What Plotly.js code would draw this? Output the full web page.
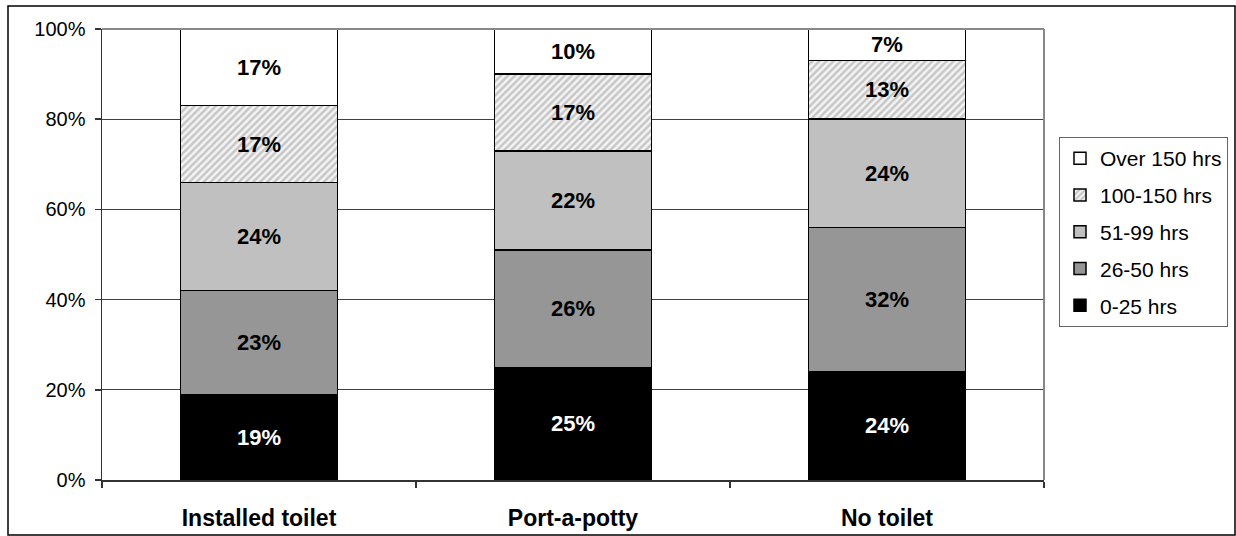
<!DOCTYPE html>
<html>
<head>
<meta charset="utf-8">
<script src="https://cdn.plot.ly/plotly-3.0.1.min.js"></script>
<style>
  html, body { margin: 0; padding: 0; background: #fff; }
  #chart { width: 1236px; height: 536px; }
</style>
</head>
<body>
<div id="chart"></div>
<script>
// Share of respondents by hours, for each toilet type
const categories = ['Installed toilet', 'Port-a-potty', 'No toilet'];
const seriesNames = ['0-25 hrs', '26-50 hrs', '51-99 hrs', '100-150 hrs', 'Over 150 hrs'];
const hrs0to25    = [19, 25, 24];
const hrs26to50   = [23, 26, 32];
const hrs51to99   = [24, 22, 24];
const hrs100to150 = [17, 17, 13];
const hrsOver150  = [17, 10, 7];
const yTickValues = [0, 20, 40, 60, 80, 100];
const yTickLabels = ['0%', '20%', '40%', '60%', '80%', '100%'];

const FONT = '"Liberation Sans", Arial, sans-serif';
const W = 1236, H = 536;
const M = { l: 102, r: 192, t: 29, b: 56, autoexpand: false };
const plotW = W - M.l - M.r, plotH = H - M.t - M.b;
// convert page pixels to paper coordinates
const px = x => (x - M.l) / plotW;
const py = y => (H - M.b - y) / plotH;

const seriesValues = [hrs0to25, hrs26to50, hrs51to99, hrs100to150, hrsOver150];
const fills = ['#000000', '#969696', '#c0c0c0', '#ffffff', '#ffffff'];
const textColors = ['#ffffff', '#000000', '#000000', '#000000', '#000000'];

const traces = seriesValues.map((vals, i) => {
  const marker = { color: fills[i], line: { color: '#000000', width: 1.5 } };
  if (i === 3) {
    marker.pattern = { shape: '/', fgcolor: '#c6c6c6', bgcolor: '#f4f4f4', size: 5, solidity: 0.5 };
  }
  return {
    type: 'bar',
    name: seriesNames[i],
    legendgroup: 'g' + i,
    legendrank: seriesValues.length - i,   // top segment listed first
    x: categories,
    y: vals,
    marker: marker,
    texttemplate: '%{y}%',
    textposition: 'inside',
    insidetextanchor: 'middle',
    textangle: 0,
    constraintext: 'none',
    textfont: { family: FONT, size: 22, color: textColors[i], weight: 'bold' },
    hoverinfo: 'skip'
  };
});

const layout = {
  width: W, height: H,
  margin: M,
  paper_bgcolor: '#ffffff',
  plot_bgcolor: '#ffffff',
  barmode: 'stack',
  bargap: 0.5,
  font: { family: FONT, color: '#000000' },
  showlegend: true,
  legend: {
    x: px(1059), xanchor: 'left',
    y: py(137), yanchor: 'top',
    traceorder: 'grouped',
    tracegroupgap: 6.5,
    bordercolor: '#666666', borderwidth: 1,
    bgcolor: '#ffffff',
    font: { family: FONT, size: 21, color: '#000000' }
  },
  xaxis: {
    type: 'category',
    showgrid: false,
    showline: true, linecolor: '#333333', linewidth: 1.5,
    ticks: 'outside', tickson: 'boundaries', ticklen: 6, tickcolor: '#333333', tickwidth: 1.5,
    tickfont: { family: FONT, size: 23, color: '#000000', weight: 'bold' },
    ticklabelstandoff: 17,
    fixedrange: true
  },
  yaxis: {
    range: [0, 100],
    tickvals: yTickValues,
    ticktext: yTickLabels,
    showgrid: true, gridcolor: '#404040', gridwidth: 1,
    showline: true, linecolor: '#333333', linewidth: 1.5,
    ticks: 'outside', ticklen: 6, tickcolor: '#333333', tickwidth: 1.5,
    tickfont: { family: FONT, size: 20, color: '#000000' },
    ticklabelstandoff: 5,
    zeroline: false,
    fixedrange: true
  },
  shapes: [
    // plot-area frame on top and right
    { type: 'line', xref: 'paper', yref: 'paper', x0: 0, x1: 1, y0: 1, y1: 1,
      line: { color: '#888888', width: 2 } },
    { type: 'line', xref: 'paper', yref: 'paper', x0: 1, x1: 1, y0: 0, y1: 1,
      line: { color: '#888888', width: 2 } },
    // outer chart frame
    { type: 'rect', xref: 'paper', yref: 'paper',
      x0: px(8), x1: px(1235), y0: py(535), y1: py(6),
      line: { color: '#000000', width: 1.5 }, fillcolor: 'rgba(0,0,0,0)' }
  ]
};

Plotly.newPlot('chart', traces, layout, { displayModeBar: false, staticPlot: true });
</script>
</body>
</html>
